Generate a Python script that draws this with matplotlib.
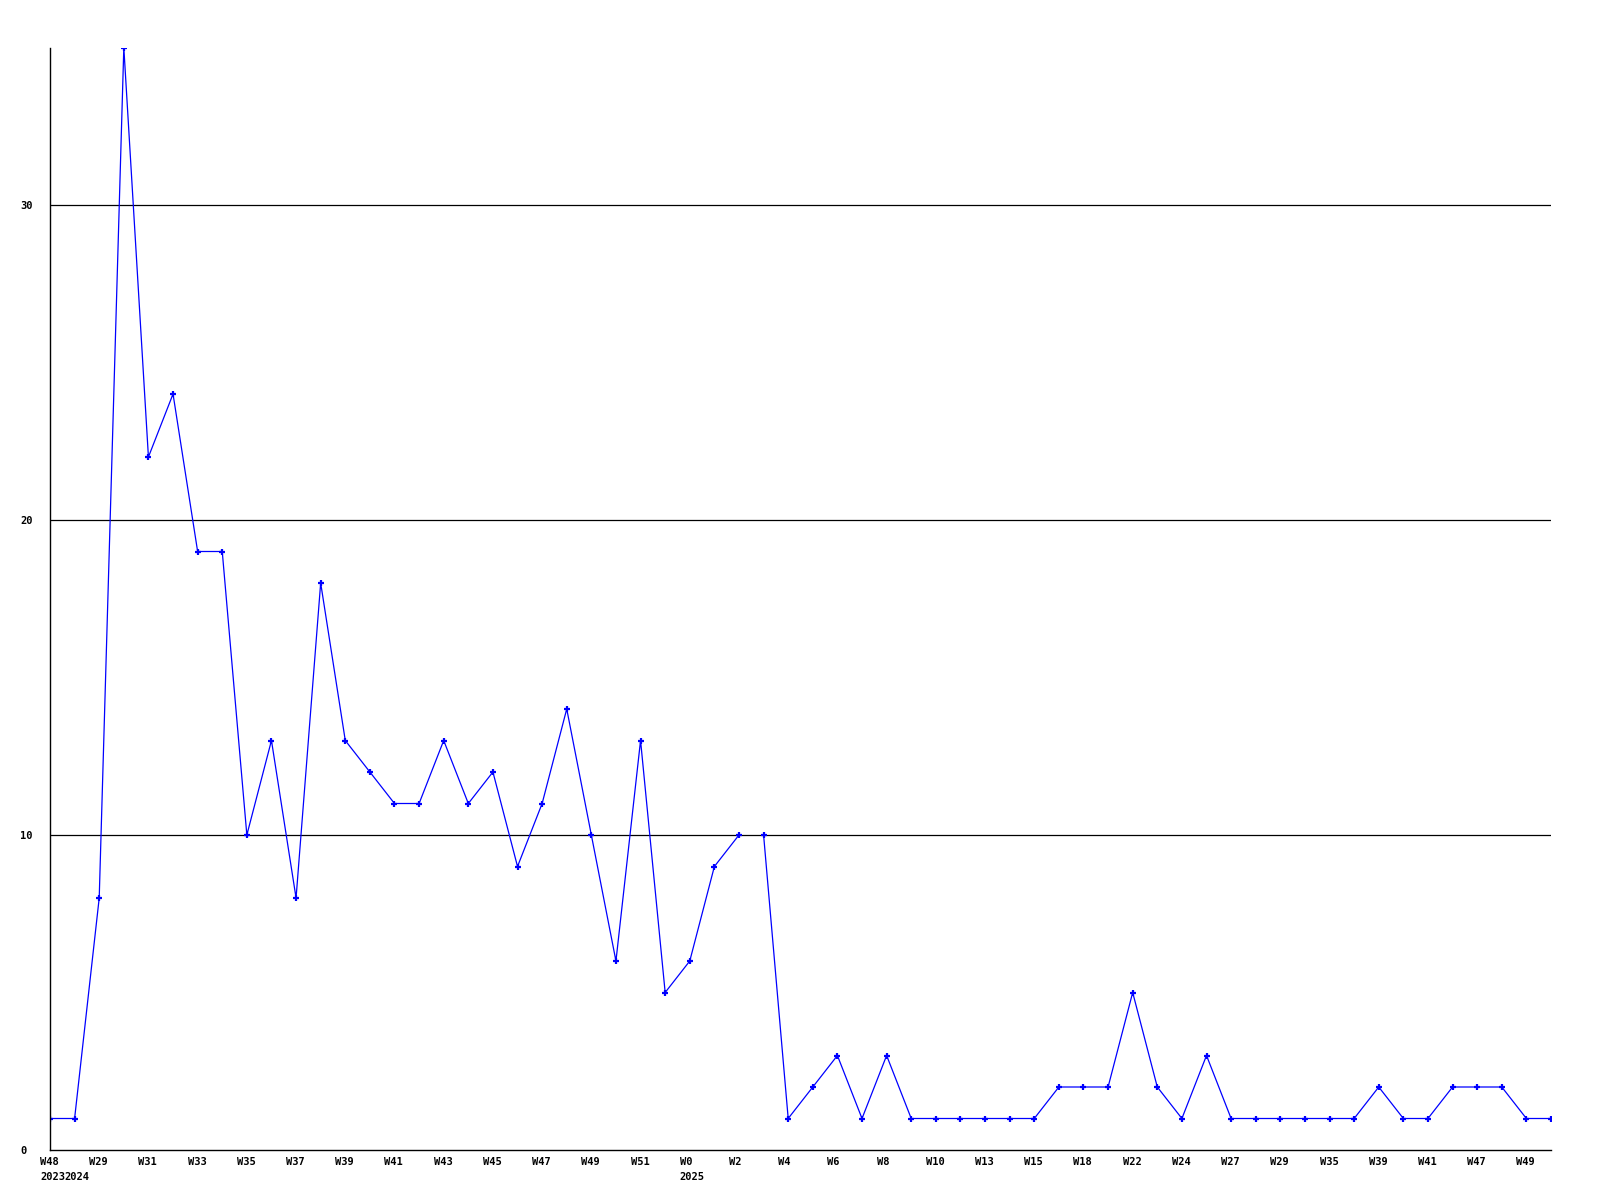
import matplotlib
matplotlib.use("Agg")
import matplotlib.pyplot as plt
import matplotlib.transforms as mtransforms
import numpy as np

# weekly counts, one point per week shown
counts = [1, 1, 8, 35, 22, 24, 19, 19, 10, 13,
          8, 18, 13, 12, 11, 11, 13, 11, 12, 9,
          11, 14, 10, 6, 13, 5, 6, 9, 10, 10,
          1, 2, 3, 1, 3, 1, 1, 1, 1, 1,
          1, 2, 2, 2, 5, 2, 1, 3, 1, 1,
          1, 1, 1, 1, 2, 1, 1, 2, 2, 2,
          1, 1]

# labels on every other point (index 0, 2, 4, ...)
week_labels = ["W48", "W29", "W31", "W33", "W35", "W37", "W39", "W41", "W43", "W45",
               "W47", "W49", "W51", "W0", "W2", "W4", "W6", "W8", "W10", "W13",
               "W15", "W18", "W22", "W24", "W27", "W29", "W35", "W39", "W41", "W47",
               "W49"]
year_labels = {0: "2023", 1: "2024", 26: "2025"}

# no line drawn between these two points
line_break_after = 28

n = len(counts)
x = np.arange(n)
y = np.array(counts)

fig = plt.figure(figsize=(16, 12), dpi=100)
ax = fig.add_axes([50 / 1600, 50 / 1200, 1501 / 1600, 1102.5 / 1200])

blue = "#0000ff"
style = dict(color=blue, lw=0.9, marker="+", markersize=4.5, mew=1.6)
ax.plot(x[:line_break_after + 1], y[:line_break_after + 1], **style)
ax.plot(x[line_break_after + 1:], y[line_break_after + 1:], **style)

ax.set_xlim(0, n - 1)
ax.set_ylim(0, 35)

for v in [10, 20, 30]:
    ax.axhline(v, color="black", lw=0.9, zorder=1)

for s in ["top", "right"]:
    ax.spines[s].set_visible(False)
for s in ["left", "bottom"]:
    ax.spines[s].set_linewidth(1.0)
    ax.spines[s].set_color("black")

font = dict(family="DejaVu Sans Mono", weight="bold", size=7.5)

ax.set_yticks([0, 10, 20, 30])
ax.set_yticklabels(["0", "10", "20", "30"], ha="left", **font)
ax.tick_params(axis="y", length=0, pad=21.6)

labels = []
for i in range(n):
    top = week_labels[i // 2] if i % 2 == 0 else ""
    if i in year_labels:
        labels.append(top + "\n" + year_labels[i])
    else:
        labels.append(top)
ax.set_xticks(x)
ax.set_xticklabels(labels, ha="left", va="top", linespacing=1.6, **font)
ax.tick_params(axis="x", length=0, pad=5)
shift = mtransforms.ScaledTranslation(-10 / 100, 0, fig.dpi_scale_trans)
for lab in ax.get_xticklabels():
    lab.set_transform(lab.get_transform() + shift)

fig.savefig("out.png", dpi=100)
